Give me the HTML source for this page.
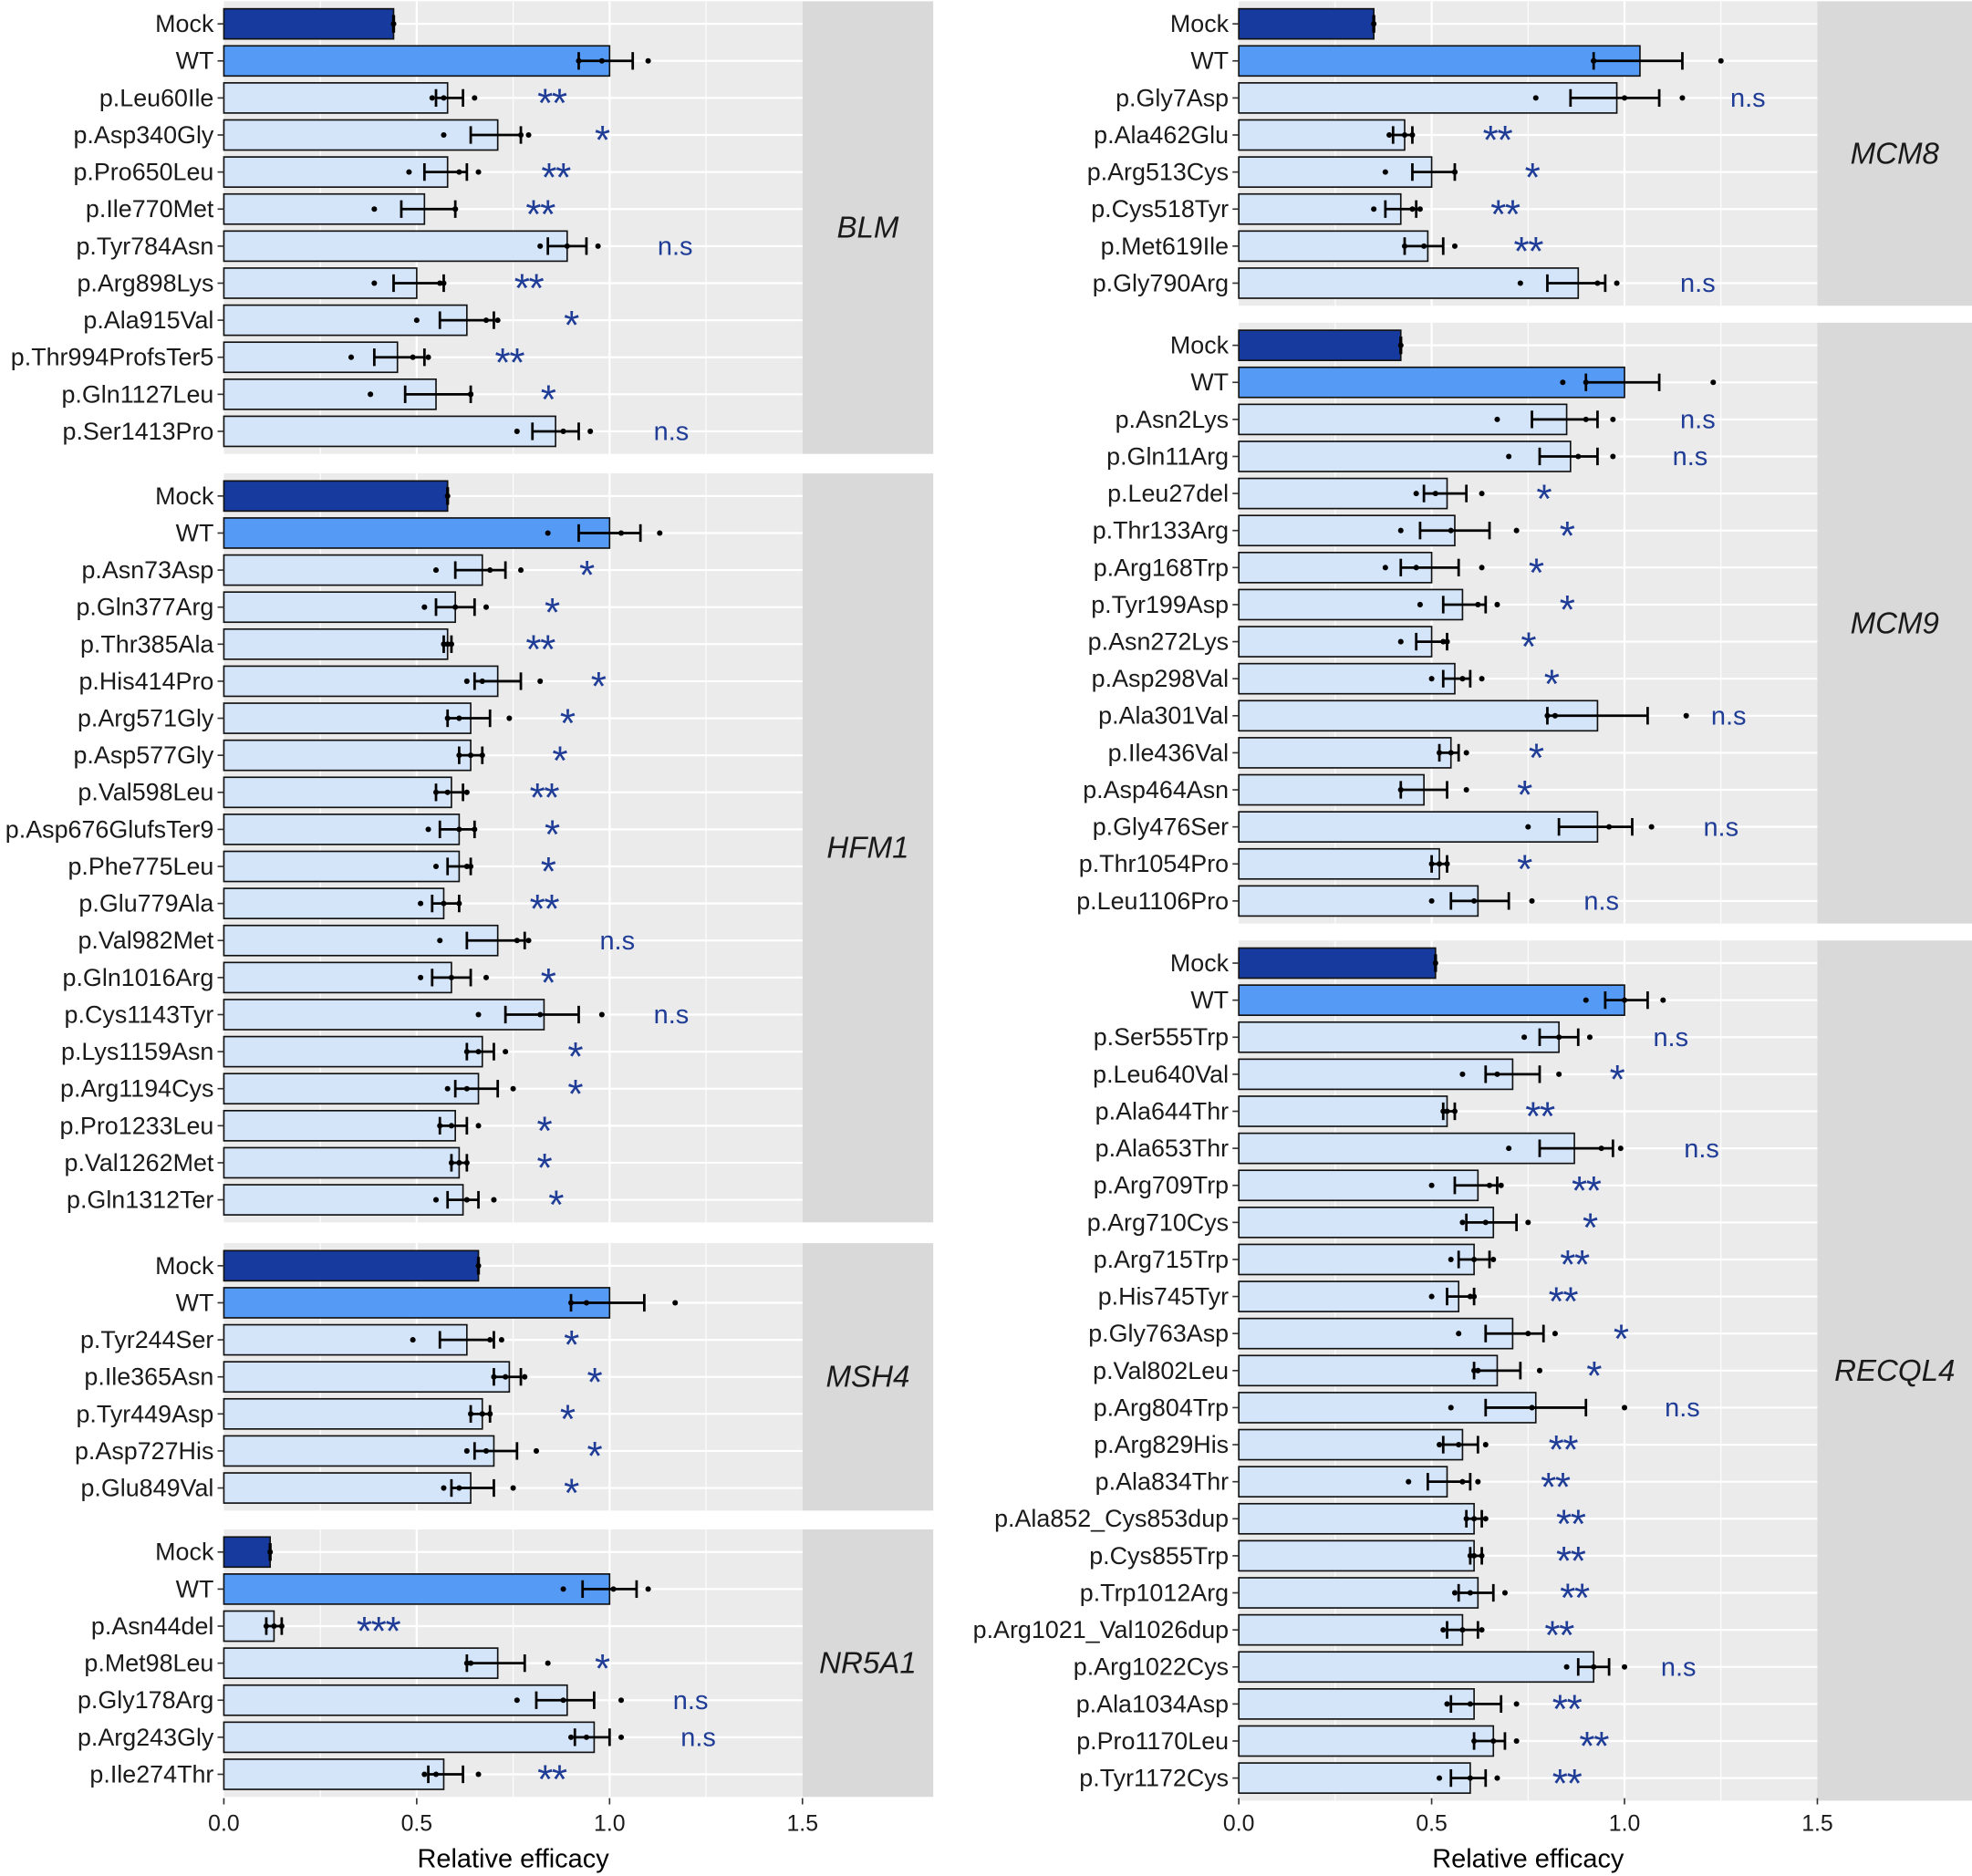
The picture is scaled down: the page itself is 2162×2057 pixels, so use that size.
<!DOCTYPE html>
<html><head><meta charset="utf-8"><style>html,body{margin:0;padding:0;background:#fff}svg{display:block}</style></head>
<body>
<svg id="s" xmlns="http://www.w3.org/2000/svg" width="2162" height="2057" viewBox="0 0 1568 1494" preserveAspectRatio="none" font-family="'Liberation Sans', Arial, sans-serif"></svg>
<script>
const S=306.7;
const panels=[
{x0:178,gene:"BLM",first:19,rows:[
["Mock",0.44,0.438,0.442,[0.44],"",0],
["WT",1.0,0.92,1.06,[0.92,0.98,1.10],"",0],
["p.Leu60Ile",0.58,0.55,0.62,[0.54,0.57,0.65],"**",0.85],
["p.Asp340Gly",0.71,0.64,0.77,[0.57,0.77,0.79],"*",0.98],
["p.Pro650Leu",0.58,0.52,0.63,[0.48,0.61,0.66],"**",0.86],
["p.Ile770Met",0.52,0.46,0.60,[0.39,0.60,0.60],"**",0.82],
["p.Tyr784Asn",0.89,0.84,0.94,[0.82,0.89,0.97],"n.s",1.17],
["p.Arg898Lys",0.50,0.44,0.57,[0.39,0.56,0.57],"**",0.79],
["p.Ala915Val",0.63,0.56,0.70,[0.50,0.68,0.71],"*",0.90],
["p.Thr994ProfsTer5",0.45,0.39,0.52,[0.33,0.49,0.53],"**",0.74],
["p.Gln1127Leu",0.55,0.47,0.64,[0.38,0.64,0.64],"*",0.84],
["p.Ser1413Pro",0.86,0.80,0.92,[0.76,0.88,0.95],"n.s",1.16]]},
{x0:178,gene:"HFM1",first:395,rows:[
["Mock",0.58,0.578,0.582,[0.58],"",0],
["WT",1.0,0.92,1.08,[0.84,1.03,1.13],"",0],
["p.Asn73Asp",0.67,0.60,0.73,[0.55,0.69,0.77],"*",0.94],
["p.Gln377Arg",0.60,0.55,0.65,[0.52,0.60,0.68],"*",0.85],
["p.Thr385Ala",0.58,0.57,0.59,[0.57,0.58,0.59],"**",0.82],
["p.His414Pro",0.71,0.65,0.77,[0.63,0.67,0.82],"*",0.97],
["p.Arg571Gly",0.64,0.58,0.69,[0.58,0.61,0.74],"*",0.89],
["p.Asp577Gly",0.64,0.61,0.67,[0.61,0.64,0.67],"*",0.87],
["p.Val598Leu",0.59,0.55,0.62,[0.55,0.58,0.63],"**",0.83],
["p.Asp676GlufsTer9",0.61,0.56,0.65,[0.53,0.61,0.65],"*",0.85],
["p.Phe775Leu",0.61,0.58,0.64,[0.55,0.63,0.64],"*",0.84],
["p.Glu779Ala",0.57,0.54,0.61,[0.51,0.57,0.61],"**",0.83],
["p.Val982Met",0.71,0.63,0.78,[0.56,0.76,0.79],"n.s",1.02],
["p.Gln1016Arg",0.59,0.54,0.64,[0.51,0.59,0.68],"*",0.84],
["p.Cys1143Tyr",0.83,0.73,0.92,[0.66,0.82,0.98],"n.s",1.16],
["p.Lys1159Asn",0.67,0.63,0.70,[0.63,0.66,0.73],"*",0.91],
["p.Arg1194Cys",0.66,0.60,0.71,[0.58,0.63,0.75],"*",0.91],
["p.Pro1233Leu",0.60,0.56,0.63,[0.56,0.59,0.66],"*",0.83],
["p.Val1262Met",0.61,0.59,0.63,[0.59,0.61,0.63],"*",0.83],
["p.Gln1312Ter",0.62,0.58,0.66,[0.55,0.63,0.70],"*",0.86]]},
{x0:178,gene:"MSH4",first:1008,rows:[
["Mock",0.66,0.658,0.662,[0.66],"",0],
["WT",1.0,0.90,1.09,[0.90,0.94,1.17],"",0],
["p.Tyr244Ser",0.63,0.56,0.70,[0.49,0.69,0.72],"*",0.90],
["p.Ile365Asn",0.74,0.70,0.77,[0.70,0.73,0.78],"*",0.96],
["p.Tyr449Asp",0.67,0.64,0.69,[0.64,0.67,0.69],"*",0.89],
["p.Asp727His",0.70,0.65,0.76,[0.63,0.68,0.81],"*",0.96],
["p.Glu849Val",0.64,0.59,0.70,[0.57,0.61,0.75],"*",0.90]]},
{x0:178,gene:"NR5A1",first:1236,rows:[
["Mock",0.12,0.118,0.122,[0.12],"",0],
["WT",1.0,0.93,1.07,[0.88,1.01,1.10],"",0],
["p.Asn44del",0.13,0.11,0.15,[0.11,0.13,0.15],"***",0.40],
["p.Met98Leu",0.71,0.63,0.78,[0.63,0.64,0.84],"*",0.98],
["p.Gly178Arg",0.89,0.81,0.96,[0.76,0.88,1.03],"n.s",1.21],
["p.Arg243Gly",0.96,0.91,1.00,[0.90,0.94,1.03],"n.s",1.23],
["p.Ile274Thr",0.57,0.53,0.62,[0.52,0.55,0.66],"**",0.85]]},
{x0:985,gene:"MCM8",first:19,rows:[
["Mock",0.35,0.348,0.352,[0.35],"",0],
["WT",1.04,0.92,1.15,[0.92,0.92,1.25],"",0],
["p.Gly7Asp",0.98,0.86,1.09,[0.77,1.00,1.15],"n.s",1.32],
["p.Ala462Glu",0.43,0.40,0.45,[0.39,0.43,0.45],"**",0.67],
["p.Arg513Cys",0.50,0.45,0.56,[0.38,0.56,0.56],"*",0.76],
["p.Cys518Tyr",0.42,0.38,0.46,[0.35,0.45,0.47],"**",0.69],
["p.Met619Ile",0.49,0.43,0.53,[0.43,0.48,0.56],"**",0.75],
["p.Gly790Arg",0.88,0.80,0.95,[0.73,0.93,0.98],"n.s",1.19]]},
{x0:985,gene:"MCM9",first:275,rows:[
["Mock",0.42,0.418,0.422,[0.42],"",0],
["WT",1.0,0.90,1.09,[0.84,0.90,1.23],"",0],
["p.Asn2Lys",0.85,0.76,0.93,[0.67,0.90,0.97],"n.s",1.19],
["p.Gln11Arg",0.86,0.78,0.93,[0.70,0.88,0.97],"n.s",1.17],
["p.Leu27del",0.54,0.48,0.59,[0.46,0.51,0.63],"*",0.79],
["p.Thr133Arg",0.56,0.47,0.65,[0.42,0.55,0.72],"*",0.85],
["p.Arg168Trp",0.50,0.42,0.57,[0.38,0.46,0.63],"*",0.77],
["p.Tyr199Asp",0.58,0.53,0.64,[0.47,0.62,0.67],"*",0.85],
["p.Asn272Lys",0.50,0.46,0.54,[0.42,0.53,0.54],"*",0.75],
["p.Asp298Val",0.56,0.53,0.60,[0.50,0.58,0.63],"*",0.81],
["p.Ala301Val",0.93,0.80,1.06,[0.80,0.82,1.16],"n.s",1.27],
["p.Ile436Val",0.55,0.52,0.57,[0.52,0.55,0.59],"*",0.77],
["p.Asp464Asn",0.48,0.42,0.54,[0.42,0.42,0.59],"*",0.74],
["p.Gly476Ser",0.93,0.83,1.02,[0.75,0.96,1.07],"n.s",1.25],
["p.Thr1054Pro",0.52,0.50,0.54,[0.50,0.52,0.54],"*",0.74],
["p.Leu1106Pro",0.62,0.55,0.70,[0.50,0.61,0.76],"n.s",0.94]]},
{x0:985,gene:"RECQL4",first:767,rows:[
["Mock",0.51,0.508,0.512,[0.51],"",0],
["WT",1.0,0.95,1.06,[0.90,1.00,1.10],"",0],
["p.Ser555Trp",0.83,0.78,0.88,[0.74,0.83,0.91],"n.s",1.12],
["p.Leu640Val",0.71,0.64,0.78,[0.58,0.67,0.83],"*",0.98],
["p.Ala644Thr",0.54,0.53,0.56,[0.53,0.54,0.56],"**",0.78],
["p.Ala653Thr",0.87,0.78,0.97,[0.70,0.94,0.99],"n.s",1.20],
["p.Arg709Trp",0.62,0.56,0.67,[0.50,0.65,0.68],"**",0.90],
["p.Arg710Cys",0.66,0.59,0.72,[0.58,0.64,0.75],"*",0.91],
["p.Arg715Trp",0.61,0.57,0.65,[0.55,0.61,0.66],"**",0.87],
["p.His745Tyr",0.57,0.54,0.61,[0.50,0.60,0.61],"**",0.84],
["p.Gly763Asp",0.71,0.64,0.79,[0.57,0.75,0.82],"*",0.99],
["p.Val802Leu",0.67,0.61,0.73,[0.61,0.62,0.78],"*",0.92],
["p.Arg804Trp",0.77,0.64,0.90,[0.55,0.76,1.00],"n.s",1.15],
["p.Arg829His",0.58,0.53,0.62,[0.52,0.57,0.64],"**",0.84],
["p.Ala834Thr",0.54,0.49,0.60,[0.44,0.58,0.62],"**",0.82],
["p.Ala852_Cys853dup",0.61,0.59,0.63,[0.59,0.61,0.64],"**",0.86],
["p.Cys855Trp",0.61,0.60,0.63,[0.60,0.61,0.63],"**",0.86],
["p.Trp1012Arg",0.62,0.57,0.66,[0.56,0.60,0.69],"**",0.87],
["p.Arg1021_Val1026dup",0.58,0.54,0.62,[0.53,0.58,0.63],"**",0.83],
["p.Arg1022Cys",0.92,0.88,0.96,[0.85,0.92,1.00],"n.s",1.14],
["p.Ala1034Asp",0.61,0.55,0.68,[0.54,0.60,0.72],"**",0.85],
["p.Pro1170Leu",0.66,0.61,0.69,[0.61,0.66,0.72],"**",0.92],
["p.Tyr1172Cys",0.60,0.55,0.64,[0.52,0.60,0.67],"**",0.85]]}
];
const SP=29.5,BH=24;
let o="";
for(const p of panels){
  const x0=p.x0, x15=x0+1.5*S, xr=x15+(p.x0<500?104:123);
  const top=p.first-18, n=p.rows.length, bot=p.first+(n-1)*SP+18;
  o+=`<rect x="${x0}" y="${top}" width="${x15-x0}" height="${bot-top}" fill="#EBEBEB"/>`;
  o+=`<rect x="${x15}" y="${top}" width="${xr-x15}" height="${bot-top}" fill="#D9D9D9"/>`;
  for(const v of [0.25,0.75,1.25]){const x=x0+v*S;o+=`<line x1="${x}" x2="${x}" y1="${top}" y2="${bot}" stroke="#fff" stroke-width="0.8"/>`;}
  for(const v of [0.5,1.0]){const x=x0+v*S;o+=`<line x1="${x}" x2="${x}" y1="${top}" y2="${bot}" stroke="#fff" stroke-width="1.6"/>`;}
  o+=`<text x="${(x15+xr)/2}" y="${(top+bot)/2+8}" font-size="24" font-style="italic" text-anchor="middle" fill="#1a1a1a">${p.gene}</text>`;
  p.rows.forEach((r,i)=>{
    const y=p.first+i*SP;
    o+=`<line x1="${x0}" x2="${x15}" y1="${y}" y2="${y}" stroke="#fff" stroke-width="1.6"/>`;
  });
  p.rows.forEach((r,i)=>{
    const y=p.first+i*SP;
    const fill=i==0?"#163A9E":i==1?"#559BF5":"#D4E5FA";
    o+=`<rect x="${x0}" y="${y-BH/2}" width="${r[1]*S}" height="${BH}" fill="${fill}" stroke="#111" stroke-width="1.2"/>`;
    const a=x0+r[2]*S,b=x0+r[3]*S;
    o+=`<line x1="${a}" x2="${b}" y1="${y}" y2="${y}" stroke="#000" stroke-width="2"/>`;
    o+=`<line x1="${a}" x2="${a}" y1="${y-7}" y2="${y+7}" stroke="#000" stroke-width="${i==0?1.2:2}"/>`;
    o+=`<line x1="${b}" x2="${b}" y1="${y-7}" y2="${y+7}" stroke="#000" stroke-width="${i==0?1.2:2}"/>`;
    for(const d of r[4]) o+=`<circle cx="${x0+d*S}" cy="${y}" r="2.2" fill="#000"/>`;
    o+=`<line x1="${x0-5}" x2="${x0}" y1="${y}" y2="${y}" stroke="#333" stroke-width="1.2"/>`;
    o+=`<text x="${x0-8}" y="${y+6.5}" font-size="19.5" text-anchor="end" fill="#1a1a1a">${r[0]}</text>`;
    if(r[5]){
      const sx=x0+r[6]*S;
      if(r[5]=="n.s") o+=`<text x="${sx}" y="${y+7}" font-size="21" text-anchor="middle" fill="#1F3C96">n.s</text>`;
      else o+=`<text x="${sx}" y="${y+15}" font-size="32" text-anchor="middle" fill="#1F3C96" letter-spacing="-1">${r[5]}</text>`;
    }
  });
}
for(const x0 of [178,985]){
  const bot=1432;
  [0,0.5,1.0,1.5].forEach(v=>{const x=x0+v*S;
    o+=`<line x1="${x}" x2="${x}" y1="${bot}" y2="${bot+5}" stroke="#333" stroke-width="1.2"/>`;
    o+=`<text x="${x}" y="${bot+26}" font-size="18" text-anchor="middle" fill="#1a1a1a">${v.toFixed(1)}</text>`;});
  o+=`<text x="${x0+0.75*S}" y="${bot+55}" font-size="21" text-anchor="middle" fill="#000">Relative efficacy</text>`;
}
document.getElementById("s").innerHTML=o;
</script>
</body></html>
